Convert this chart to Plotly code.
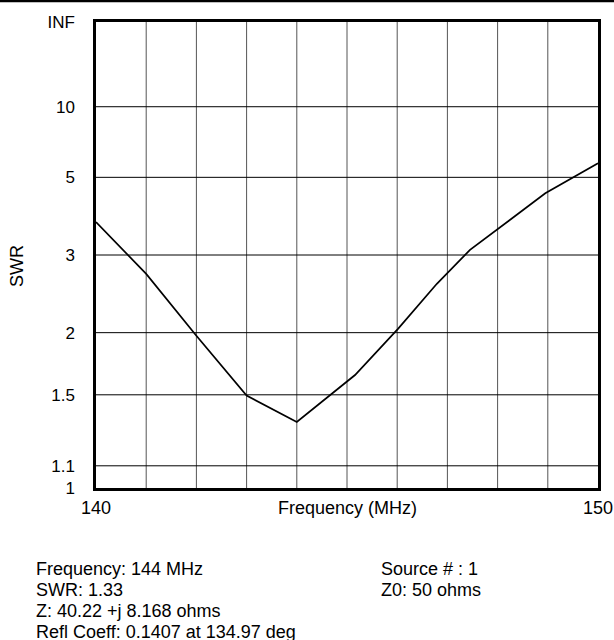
import plotly.graph_objects as go

# ---- data ----
freq_mhz = [140.0, 141.0, 142.0, 143.0, 144.0, 145.16, 146.02, 146.79, 147.45, 148.95, 150.0]
swr_vals = [3.66, 2.70, 1.97, 1.495, 1.33, 1.64, 2.04, 2.56, 3.09, 4.44, 5.60]

swr_ticks = [1, 1.1, 1.5, 2, 3, 5, 10]
swr_tick_text = ["1", "1.1", "1.5", "2", "3", "5", "10", "INF"]
freq_grid = list(range(140, 151))
freq_tick_vals = [140, 150]

info_left = ["Frequency: 144 MHz", "SWR: 1.33", "Z: 40.22 +j 8.168 ohms",
             "Refl Coeff: 0.1407 at 134.97 deg"]
info_right = ["Source # : 1", "Z0: 50 ohms"]


def rho(s):
    return (s - 1.0) / (s + 1.0)


FONT = "Liberation Sans, Arial, sans-serif"
FS = 17
FS_TXT = 18

# plot-area geometry (pixels)
W, H = 614, 640
L, R, T, B = 96, 598, 22, 488
PW, PH = R - L, B - T


def px(x):
    return (x - L) / PW


def py(y):
    return (B - y) / PH


fig = go.Figure()

fig.add_trace(go.Scatter(
    x=freq_mhz, y=[rho(s) for s in swr_vals], mode="lines",
    line=dict(color="black", width=1.7), hoverinfo="skip", showlegend=False))

shapes = []
# vertical grid lines
for f in freq_grid[1:-1]:
    shapes.append(dict(type="line", xref="x", yref="paper", x0=f, x1=f, y0=0, y1=1,
                       line=dict(color="#555555", width=1), layer="below"))
# horizontal grid lines
for s in swr_ticks[1:]:
    shapes.append(dict(type="line", xref="paper", yref="y", x0=0, x1=1, y0=rho(s), y1=rho(s),
                       line=dict(color="black", width=1), layer="below"))
# top rule of the window
shapes.append(dict(type="line", xref="paper", yref="paper", x0=px(0), x1=px(W),
                   y0=py(1), y1=py(1), line=dict(color="black", width=2.5)))

annotations = [
    dict(text="Frequency (MHz)", xref="paper", yref="paper", x=0.5, y=py(508),
         xanchor="center", yanchor="middle", showarrow=False,
         font=dict(family=FONT, size=FS_TXT, color="black")),
    dict(text="SWR", xref="paper", yref="paper", x=px(17), y=py(266), textangle=-90,
         xanchor="center", yanchor="middle", showarrow=False,
         font=dict(family=FONT, size=FS_TXT, color="black")),
]
for i, t in enumerate(info_left):
    annotations.append(dict(text=t, xref="paper", yref="paper", x=px(34), y=py(569 + 21 * i),
                            xanchor="left", yanchor="middle", showarrow=False,
                            font=dict(family=FONT, size=FS_TXT, color="black")))
for i, t in enumerate(info_right):
    annotations.append(dict(text=t, xref="paper", yref="paper", x=px(379), y=py(569 + 21 * i),
                            xanchor="left", yanchor="middle", showarrow=False,
                            font=dict(family=FONT, size=FS_TXT, color="black")))

fig.update_layout(
    width=W, height=H,
    margin=dict(l=L, r=W - R, t=T, b=H - B, pad=0),
    paper_bgcolor="white", plot_bgcolor="white",
    font=dict(family=FONT, size=FS, color="black"),
    shapes=shapes, annotations=annotations,
    xaxis=dict(range=[140, 150], tickvals=freq_tick_vals, ticktext=[str(v) for v in freq_tick_vals],
               showgrid=False, zeroline=False, showline=True, mirror=True,
               linecolor="black", linewidth=2.5, ticks="", ticklabelstandoff=2,
               tickfont=dict(size=FS_TXT), fixedrange=True, automargin=False),
    yaxis=dict(range=[0, 1], tickvals=[rho(s) for s in swr_ticks] + [1.0], ticktext=swr_tick_text,
               showgrid=False, zeroline=False, showline=True, mirror=True,
               linecolor="black", linewidth=2.5, ticks="", ticklabelstandoff=15,
               fixedrange=True, automargin=False),
)

fig.write_html("out.html", config={"displayModeBar": False},
               post_script="document.documentElement.style.overflow='hidden';"
                           "document.body.style.margin='0';document.body.style.overflow='hidden';")
